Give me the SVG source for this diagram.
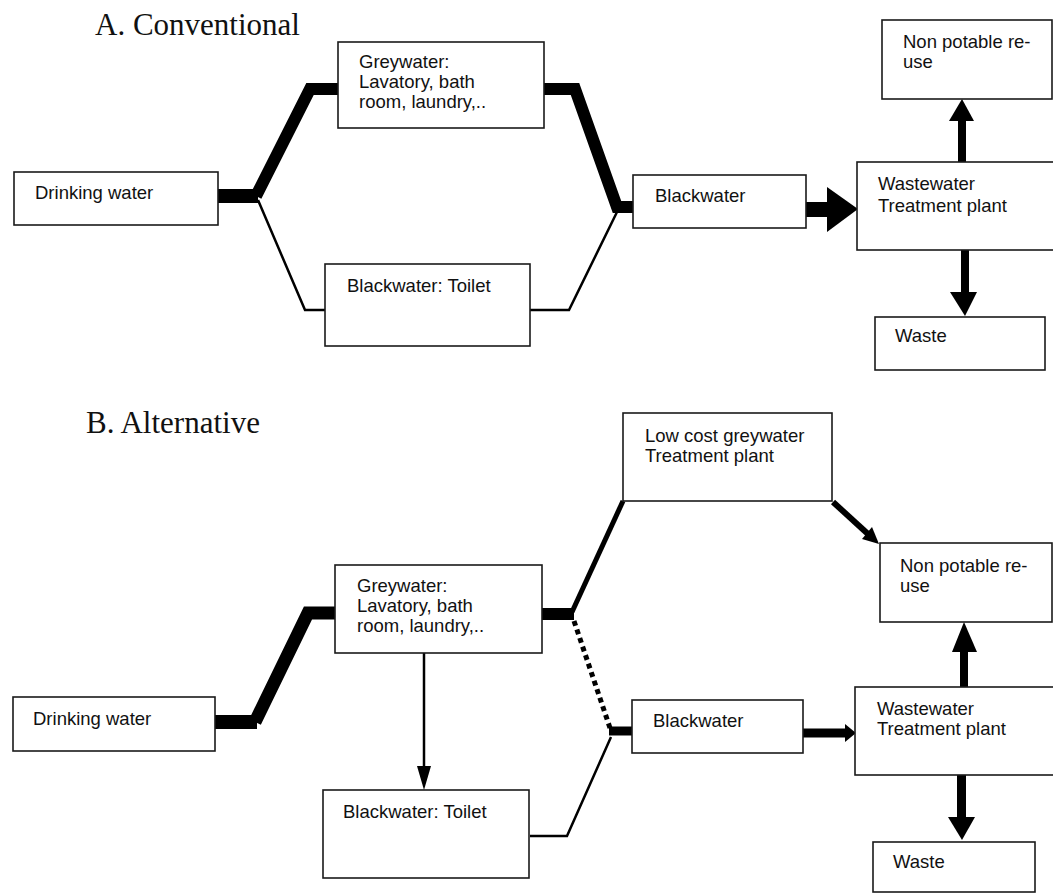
<svg xmlns="http://www.w3.org/2000/svg" width="1053" height="894" viewBox="0 0 1053 894">
<style>
  .box { fill: #fff; stroke: #1a1a1a; stroke-width: 1.6; }
  .lbl { font-family: "Liberation Sans", Arial, sans-serif; font-size: 18.5px; fill: #111; }
  .title { font-family: "Liberation Serif", "Times New Roman", serif; font-size: 31px; fill: #111; }
  .thick { fill: none; stroke: #000; stroke-linejoin: miter; stroke-linecap: butt; }
  .thin { fill: none; stroke: #000; stroke-width: 2.5; stroke-linejoin: miter; }
  .head { fill: #000; }
</style>
<rect width="1053" height="894" fill="#fff"/>

<text class="title" x="95" y="35">A. Conventional</text>
<text class="title" x="86" y="433">B. Alternative</text>

<g id="connectors">
  <!-- A -->
  <polyline class="thick" stroke-width="14" points="218,196 258,196"/>
  <polyline class="thick" stroke-width="12" points="256,196 310,89 338,89"/>
  <polyline class="thin" points="258,200 305,310 325,310"/>
  <polyline class="thick" stroke-width="12" points="544,89 575,89 617,207 633,207"/>
  <polyline class="thin" points="530,310 569,310 617,212"/>
  <rect class="head" x="806" y="202" width="23" height="15"/>
  <polygon class="head" points="827,187 858,209 827,232"/>
  <rect class="head" x="958" y="118" width="8" height="44"/>
  <polygon class="head" points="949,121 962,99 974,121"/>
  <rect class="head" x="961" y="250" width="8" height="44"/>
  <polygon class="head" points="950,292 965,316 977,292"/>

  <!-- B -->
  <polyline class="thick" stroke-width="14" points="215,722 257,722"/>
  <polyline class="thick" stroke-width="13" points="255,722 308,613 335,613"/>
  <line class="thin" x1="424" y1="653" x2="424" y2="770"/>
  <polygon class="head" points="417,766 424,790 431,766"/>
  <polyline class="thick" stroke-width="12" points="542,614 574,614"/>
  <line class="thick" stroke-width="5" x1="572" y1="612" x2="623" y2="501"/>
  <line class="thick" stroke-width="5" stroke-dasharray="5,4" x1="574" y1="621" x2="610" y2="728"/>
  <polyline class="thick" stroke-width="9" points="609,731 632,731"/>
  <polyline class="thin" points="530,836 567,836 611,737"/>
  <line class="thick" stroke-width="9" x1="803" y1="733" x2="848" y2="733"/>
  <polygon class="head" points="845,724 856,733 845,742"/>
  <line class="thick" stroke-width="6" x1="833" y1="502" x2="868" y2="534"/>
  <polygon class="head" points="862,539 879,544 872,527"/>
  <rect class="head" x="960" y="650" width="8" height="37"/>
  <polygon class="head" points="952,652 964,622 977,652"/>
  <rect class="head" x="957" y="775" width="9" height="44"/>
  <polygon class="head" points="948,817 962,840 975,817"/>
</g>

<!-- A nodes -->
<g id="a-drinking"><rect class="box" x="14" y="172" width="204" height="53"/><text class="lbl" x="35" y="199">Drinking water</text></g>
<g id="a-greywater"><rect class="box" x="338" y="42" width="206" height="86"/>
  <text class="lbl" x="359" y="68">Greywater:</text><text class="lbl" x="359" y="88">Lavatory, bath</text><text class="lbl" x="359" y="108">room, laundry,..</text></g>
<g id="a-toilet"><rect class="box" x="325" y="264" width="205" height="82"/><text class="lbl" x="347" y="292">Blackwater: Toilet</text></g>
<g id="a-blackwater"><rect class="box" x="633" y="175" width="173" height="53"/><text class="lbl" x="655" y="202">Blackwater</text></g>
<g id="a-wwtp"><rect class="box" x="857" y="162" width="210" height="88"/>
  <text class="lbl" x="878" y="190">Wastewater</text><text class="lbl" x="878" y="212">Treatment plant</text></g>
<g id="a-reuse"><rect class="box" x="882" y="20" width="170" height="79"/>
  <text class="lbl" x="903" y="48">Non potable re-</text><text class="lbl" x="903" y="68">use</text></g>
<g id="a-waste"><rect class="box" x="875" y="317" width="170" height="53"/><text class="lbl" x="895" y="342">Waste</text></g>

<!-- B nodes -->
<g id="b-drinking"><rect class="box" x="13" y="697" width="202" height="54"/><text class="lbl" x="33" y="725">Drinking water</text></g>
<g id="b-greywater"><rect class="box" x="335" y="565" width="207" height="88"/>
  <text class="lbl" x="357" y="592">Greywater:</text><text class="lbl" x="357" y="612">Lavatory, bath</text><text class="lbl" x="357" y="632">room, laundry,..</text></g>
<g id="b-toilet"><rect class="box" x="323" y="790" width="206" height="88"/><text class="lbl" x="343" y="818">Blackwater: Toilet</text></g>
<g id="b-blackwater"><rect class="box" x="632" y="700" width="171" height="53"/><text class="lbl" x="653" y="727">Blackwater</text></g>
<g id="b-lowcost"><rect class="box" x="623" y="413" width="209" height="88"/>
  <text class="lbl" x="645" y="442">Low cost greywater</text><text class="lbl" x="645" y="462">Treatment plant</text></g>
<g id="b-wwtp"><rect class="box" x="855" y="687" width="210" height="88"/>
  <text class="lbl" x="877" y="715">Wastewater</text><text class="lbl" x="877" y="735">Treatment plant</text></g>
<g id="b-reuse"><rect class="box" x="880" y="543" width="172" height="79"/>
  <text class="lbl" x="900" y="572">Non potable re-</text><text class="lbl" x="900" y="592">use</text></g>
<g id="b-waste"><rect class="box" x="873" y="842" width="162" height="50"/><text class="lbl" x="893" y="868">Waste</text></g>
</svg>
